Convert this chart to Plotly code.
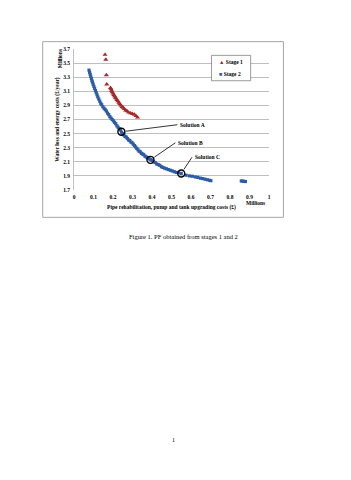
import plotly.graph_objects as go

# ---- data ----
stage1_x = [0.159, 0.163, 0.166, 0.168, 0.187, 0.190, 0.193, 0.196, 0.200, 0.204,
            0.208, 0.212, 0.216, 0.220, 0.225, 0.230, 0.235, 0.240, 0.246, 0.252,
            0.258, 0.265, 0.272, 0.280, 0.290, 0.300, 0.310, 0.318, 0.326]
stage1_y = [3.62, 3.55, 3.33, 3.20, 3.15, 3.13, 3.11, 3.09, 3.07, 3.05,
            3.03, 3.01, 3.00, 2.98, 2.96, 2.94, 2.92, 2.90, 2.88, 2.87,
            2.85, 2.83, 2.82, 2.80, 2.79, 2.78, 2.77, 2.75, 2.73]

stage2_x = [0.077, 0.080, 0.083, 0.086, 0.089, 0.092, 0.095, 0.098, 0.102, 0.106,
            0.110, 0.114, 0.118, 0.122, 0.127, 0.132, 0.137, 0.142, 0.148, 0.154,
            0.160, 0.166, 0.172, 0.178, 0.184, 0.190, 0.196, 0.202, 0.208, 0.214,
            0.220, 0.226, 0.232, 0.238, 0.244, 0.250, 0.256, 0.262, 0.268, 0.274,
            0.280, 0.286, 0.292, 0.298, 0.304, 0.310, 0.316, 0.322, 0.328, 0.334,
            0.340, 0.346, 0.352, 0.358, 0.364, 0.370, 0.376, 0.382, 0.388, 0.394,
            0.400, 0.408, 0.416, 0.424, 0.432, 0.440, 0.448, 0.456, 0.465, 0.474,
            0.484, 0.494, 0.504, 0.514, 0.524, 0.536, 0.550, 0.575, 0.592, 0.607,
            0.622, 0.635, 0.648, 0.660, 0.672, 0.684, 0.695, 0.702, 0.858, 0.866,
            0.872, 0.879]
stage2_y = [3.40, 3.37, 3.34, 3.31, 3.28, 3.25, 3.23, 3.20, 3.17, 3.14,
            3.11, 3.08, 3.05, 3.02, 2.99, 2.96, 2.93, 2.91, 2.88, 2.86,
            2.84, 2.82, 2.79, 2.77, 2.74, 2.72, 2.70, 2.68, 2.66, 2.64,
            2.61, 2.59, 2.57, 2.55, 2.52, 2.50, 2.48, 2.46, 2.45, 2.43,
            2.41, 2.40, 2.38, 2.37, 2.35, 2.33, 2.31, 2.29, 2.27, 2.25,
            2.24, 2.22, 2.21, 2.20, 2.18, 2.17, 2.16, 2.15, 2.14, 2.13,
            2.12, 2.10, 2.09, 2.07, 2.06, 2.05, 2.03, 2.02, 2.01, 2.00,
            1.99, 1.98, 1.97, 1.96, 1.95, 1.945, 1.935, 1.91, 1.90, 1.895,
            1.885, 1.878, 1.868, 1.862, 1.853, 1.845, 1.838, 1.832, 1.828, 1.826,
            1.822, 1.820]

sol_names = ["Solution A", "Solution B", "Solution C"]
sol_x = [0.243, 0.392, 0.550]
sol_y = [2.526, 2.128, 1.935]
sol_label_x = [0.530, 0.520, 0.605]
sol_label_y = [2.626, 2.370, 2.165]

x_ticks = [0, 0.1, 0.2, 0.3, 0.4, 0.5, 0.6, 0.7, 0.8, 0.9, 1]
x_ticktext = ["0", "0.1", "0.2", "0.3", "0.4", "0.5", "0.6", "0.7", "0.8", "0.9", "1"]
y_ticks = [1.7, 1.9, 2.1, 2.3, 2.5, 2.7, 2.9, 3.1, 3.3, 3.5, 3.7]
y_ticktext = ["1.7", "1.9", "2.1", "2.3", "2.5", "2.7", "2.9", "3.1", "3.3", "3.5", "3.7"]

RED = "#A8282A"
BLUE = "#2D5CA6"
SERIF = "Liberation Serif"

fig = go.Figure()
fig.add_trace(go.Scatter(x=stage1_x, y=stage1_y, mode="markers", name="Stage 1",
                         marker=dict(symbol="triangle-up", size=4.5, color=RED, line=dict(width=0))))
fig.add_trace(go.Scatter(x=stage2_x, y=stage2_y, mode="markers", name="Stage 2",
                         marker=dict(symbol="square", size=3.2, color=BLUE, line=dict(width=0))))
fig.add_trace(go.Scatter(x=sol_x, y=sol_y, mode="markers", name="Solutions", showlegend=False,
                         marker=dict(symbol="circle-open", size=7, color="black", line=dict(width=1.4))))

for name, sx, sy, lx, ly in zip(sol_names, sol_x, sol_y, sol_label_x, sol_label_y):
    fig.add_annotation(x=lx, y=ly, ax=sx, ay=sy, xref="x", yref="y", axref="x", ayref="y",
                       text="", showarrow=True, arrowhead=0, arrowwidth=0.8, arrowcolor="black",
                       standoff=0, startstandoff=3)
    fig.add_annotation(x=lx, y=ly, xref="x", yref="y", text="<b>" + name + "</b>",
                       showarrow=False, xanchor="left", yanchor="middle", xshift=1,
                       font=dict(family=SERIF, size=5.5, color="black"))

# chart frame
fig.add_shape(type="rect", xref="paper", yref="paper", x0=-0.1605, x1=1.074, y0=-0.194, y1=1.052,
              line=dict(color="#A6A6A6", width=1), fillcolor="rgba(0,0,0,0)", layer="below")

# legend box (manual, to match the tiny original)
fig.add_shape(type="rect", xref="paper", yref="paper", x0=0.705, x1=0.906, y0=0.775, y1=0.955,
              line=dict(color="#808080", width=0.8), fillcolor="white", layer="above")
fig.add_annotation(xref="paper", yref="paper", x=0.735, y=0.91, xanchor="left", yanchor="middle",
                   showarrow=False, align="left",
                   text="<span style='color:%s'>▲</span> <b>Stage 1</b>" % RED,
                   font=dict(family=SERIF, size=5.5, color="black"))
fig.add_annotation(xref="paper", yref="paper", x=0.735, y=0.82, xanchor="left", yanchor="middle",
                   showarrow=False, align="left",
                   text="<span style='color:%s'>■</span> <b>Stage 2</b>" % BLUE,
                   font=dict(family=SERIF, size=5.5, color="black"))

# axis "Millions" labels
fig.add_annotation(xref="paper", yref="paper", x=0.93, y=-0.09, xanchor="center", yanchor="middle",
                   showarrow=False, text="<b>Millions</b>", font=dict(family=SERIF, size=5.5, color="black"))
fig.add_annotation(xref="paper", yref="paper", x=-0.07, y=0.93, xanchor="center", yanchor="middle",
                   showarrow=False, text="<b>Millions</b>", textangle=-90,
                   font=dict(family=SERIF, size=5.5, color="black"))

# caption and page number
fig.add_annotation(xref="paper", yref="paper", x=0.56, y=-0.332, xanchor="center", yanchor="middle",
                   showarrow=False, text="Figure 1. PF obtained from stages 1 and 2",
                   font=dict(family=SERIF, size=6.5, color="black"))
fig.add_annotation(xref="paper", yref="paper", x=0.512, y=-1.77, xanchor="center", yanchor="middle",
                   showarrow=False, text="1", font=dict(family=SERIF, size=6, color="black"))

fig.update_layout(
    width=351, height=480,
    margin=dict(l=74, r=82, t=49, b=290),
    paper_bgcolor="white", plot_bgcolor="white",
    showlegend=False,
    font=dict(family=SERIF, size=5.5, color="black"),
    xaxis=dict(range=[0, 1], tickvals=x_ticks, ticktext=["<b>%s</b>" % t for t in x_ticktext],
               showgrid=False, zeroline=False, showline=False, ticks="",
               tickfont=dict(family=SERIF, size=5.5, color="black"), ticklabelstandoff=2,
               title=dict(text="<b>Pipe rehabilitation, pump and tank upgrading costs (£)</b>",
                          font=dict(family=SERIF, size=5.5, color="black"), standoff=6)),
    yaxis=dict(range=[1.7, 3.7], tickvals=y_ticks, ticktext=["<b>%s</b>" % t for t in y_ticktext],
               showgrid=True, gridcolor="#BFBFBF", gridwidth=0.8, zeroline=False,
               showline=True, linecolor="#BFBFBF", linewidth=0.8, ticks="",
               tickfont=dict(family=SERIF, size=5.5, color="black"), ticklabelstandoff=2,
               title=dict(text="<b>Water loss and energy costs (£/year)</b>",
                          font=dict(family=SERIF, size=5.5, color="black"), standoff=3)),
)

fig.write_html("out.html")
